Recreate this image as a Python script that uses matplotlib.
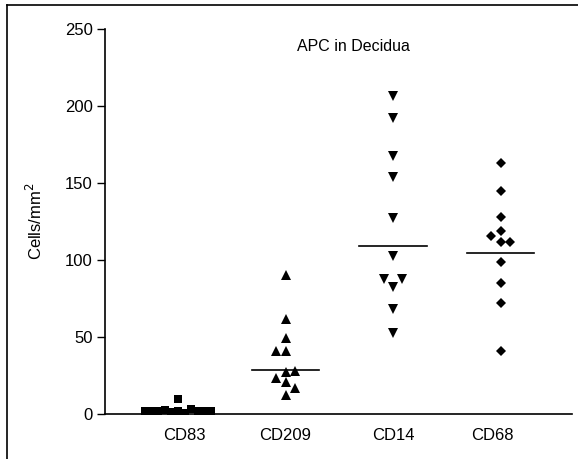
import numpy as np
import matplotlib
matplotlib.use("Agg")
import matplotlib.pyplot as plt
from matplotlib.lines import Line2D

plt.rcParams['font.family'] = ['Liberation Sans', 'DejaVu Sans']

categories = ["CD83", "CD209", "CD14", "CD68"]

# cells/mm2, top to bottom within each column
cd83 = [9.5, 2.0, 2.0, 1.5, 2.5, 1.0, 2.0, 0.5, 3.0, 1.5, 2.0, 2.0]
cd209 = [90.1, 61.3, 49.0, 40.7, 40.7, 27.9, 27.3, 23.0, 20.8, 16.5, 12.1]
cd14 = [206.3, 192.2, 167.3, 153.5, 126.9, 102.6, 87.3, 87.3, 82.1, 67.8, 52.3]
cd68 = [163.0, 144.8, 127.5, 118.8, 115.4, 111.7, 111.7, 98.7, 85.1, 71.7, 40.9]
medians = [2.4, 28.6, 109.1, 104.2]

# side-by-side slot of each point (column scatter layout)
cd83_slot = [0, -5, -4, -3, -2, -1, 0, 1, 2, 3, 4, 5]
cd209_slot = [0, 0, 0, -1, 0, 1, 0, -1, 0, 1, 0]
cd14_slot = [0, 0, 0, 0, 0, 0, -1, 1, 0, 0, 0]
cd68_slot = [0, 0, 0, 0, -1, 0, 1, 0, 0, 0, 0]

groups = [cd83, cd209, cd14, cd68]
slots = [cd83_slot, cd209_slot, cd14_slot, cd68_slot]
slot_step = [0.061, 0.088, 0.088, 0.088]
markers = [('s', 5.5), ('^', 7), ('v', 7), ('D', 5)]

fig = plt.figure(figsize=(5.78, 4.59), dpi=100)
ax = fig.add_axes([0.1817, 0.0987, 0.9896 - 0.1817, 0.9375 - 0.0987])

for i, (vals, sl) in enumerate(zip(groups, slots)):
    xs = (i + 1) + np.array(sl) * slot_step[i]
    m, ms = markers[i]
    ax.plot(xs, vals, linestyle='none', marker=m, ms=ms, color='black',
            markeredgewidth=0)
    ax.plot([i + 1 - 0.315, i + 1 + 0.315], [medians[i], medians[i]],
            color='black', lw=1.2, zorder=1)

ax.set_xlim(0.321, 4.665)
ax.set_ylim(0, 250)
ax.set_yticks([0, 50, 100, 150, 200, 250])
ax.set_xticks([1.06, 2, 3, 3.92])
ax.set_xticklabels(categories)
ax.tick_params(axis='y', direction='out', length=6, width=1, labelsize=12, pad=3)
ax.tick_params(axis='x', length=0, labelsize=12, pad=10)
for s in ['top', 'right']:
    ax.spines[s].set_visible(False)
for s in ['left', 'bottom']:
    ax.spines[s].set_linewidth(1.2)

ax.set_ylabel("Cells/mm$^2$", fontsize=12, labelpad=14)
ax.text(0.531, 0.955, "APC in Decidua", transform=ax.transAxes,
        ha='center', va='center', fontsize=11.5)

# outer frame of the original figure (only left and top remain)
fig.add_artist(Line2D([7 / 578, 7 / 578], [0, 1 - 5 / 459],
                      transform=fig.transFigure, color='black', lw=1.2))
fig.add_artist(Line2D([7 / 578, 1], [1 - 5 / 459, 1 - 5 / 459],
                      transform=fig.transFigure, color='black', lw=1.2))

fig.savefig("out.png", dpi=100)
